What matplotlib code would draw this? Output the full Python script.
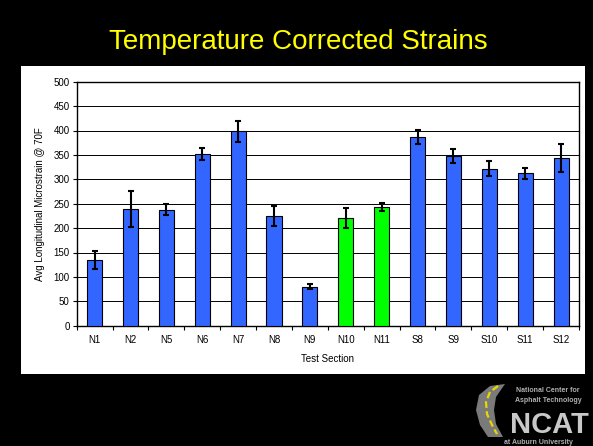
import matplotlib
matplotlib.use("Agg")
import matplotlib.pyplot as plt
from matplotlib.patches import Rectangle, Polygon

categories = ["N1", "N2", "N5", "N6", "N7", "N8", "N9", "N10", "N11", "S8", "S9", "S10", "S11", "S12"]
values = [135, 240, 238, 352, 398, 225, 80, 221, 244, 387, 348, 322, 312, 344]
errors = [18, 37, 11, 12, 21, 20, 5, 20, 8, 14, 15, 15, 11, 29]
green_sections = ["N10", "N11"]

W, H = 593, 446
fig = plt.figure(figsize=(W / 100, H / 100), dpi=100)
fig.patch.set_facecolor("black")


def fp(px, py):
    return (px / W, 1 - py / H)


# white chart panel
fig.patches.append(Rectangle(fp(21, 374), (585 - 21) / W, (374 - 66) / H,
                             transform=fig.transFigure, facecolor="white", edgecolor="none", zorder=0))

fig.text(298 / W, 1 - 42 / H, "Temperature Corrected Strains", color="#FFFF00",
         fontsize=20, family="Liberation Sans", ha="center", va="center")

ax_l, ax_r, ax_t, ax_b = 76.7, 579, 81.7, 325.7
ax = fig.add_axes([ax_l / W, 1 - ax_b / H, (ax_r - ax_l) / W, (ax_b - ax_t) / H])
ax.set_zorder(2)
ax.set_facecolor("white")

x = list(range(len(categories)))
colors = ["#00FF00" if c in green_sections else "#3366FF" for c in categories]
ax.bar(x, values, width=0.42, color=colors, edgecolor="black", linewidth=0.8, zorder=3)
ax.errorbar(x, values, yerr=errors, fmt="none", ecolor="black", elinewidth=1.5,
            capsize=2.5, capthick=1.5, zorder=4)

ax.set_xlim(-0.5, len(categories) - 0.5)
ax.set_ylim(0, 500)
ax.set_yticks(range(0, 501, 50))
ax.yaxis.grid(True, color="black", linewidth=0.7, zorder=1)
ax.set_axisbelow(True)

ax.set_xticks(x)
ax.set_xticklabels(categories, fontsize=7, family="Liberation Sans")
ax.set_xticks([i + 0.5 for i in range(-1, len(categories))], minor=True)
ax.tick_params(axis="x", which="major", length=0, pad=7)
ax.tick_params(axis="x", which="minor", length=3, width=0.8, direction="out")
ax.tick_params(axis="y", length=3, width=0.8, labelsize=7, pad=2)
for lab in ax.get_yticklabels():
    lab.set_family("Liberation Sans")

for s in ax.spines.values():
    s.set_color("black")
    s.set_linewidth(1.0)

ax.set_ylabel("Avg Longitudinal Microstrain @ 70F", fontsize=7, family="Liberation Sans", labelpad=6)
ax.set_xlabel("Test Section", fontsize=7, family="Liberation Sans", labelpad=6)

# logo approximation (decorative)
road = [fp(505, 384), fp(490, 386), fp(479, 395), fp(476, 410), fp(480, 425), fp(488, 437),
        fp(503, 437), fp(496, 424), fp(494, 410), fp(496, 397)]
fig.patches.append(Polygon(road, closed=True, transform=fig.transFigure,
                           facecolor="#7a7a7a", edgecolor="none", zorder=1))
stripe_x = [498, 490, 486, 487, 492, 497]
stripe_y = [386, 392, 402, 414, 425, 434]
fig.lines.append(plt.Line2D([v / W for v in stripe_x], [1 - v / H for v in stripe_y],
                            transform=fig.transFigure, color="#E8D800", linewidth=1.6,
                            linestyle=(0, (3, 1.5)), zorder=2))
fig.text(549 / W, 1 - 425 / H, "NCAT", color="#C8C8C8", fontsize=21, fontweight="bold",
         family="Liberation Sans", ha="center", va="center")
fig.text(548 / W, 1 - 390 / H, "National Center for", color="#B0B0B0", fontsize=5,
         fontweight="bold", family="Liberation Sans", ha="center", va="center")
fig.text(548 / W, 1 - 401 / H, "Asphalt Technology", color="#B0B0B0", fontsize=5,
         fontweight="bold", family="Liberation Sans", ha="center", va="center")
fig.text(538 / W, 1 - 443 / H, "at Auburn University", color="#B0B0B0", fontsize=5,
         fontweight="bold", family="Liberation Sans", ha="center", va="center")

fig.savefig("out.png", dpi=100, facecolor="black")
